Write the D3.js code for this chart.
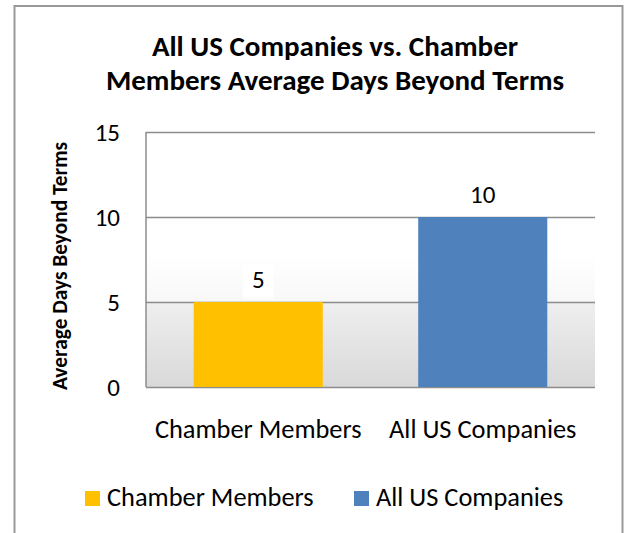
<!DOCTYPE html>
<html><head><meta charset="utf-8">
<script src="https://cdn.jsdelivr.net/npm/d3@7"></script>
<style>html,body{margin:0;padding:0;background:#fff;} svg{display:block;}</style>
</head><body>
<script>
const categories = ["Chamber Members", "All US Companies"];
const values = [5, 10];
const colors = ["#FFC000", "#4F81BD"];
const yTicks = [0, 5, 10, 15];
const titleLines = ["All US Companies vs. Chamber", "Members Average Days Beyond Terms"];
const yAxisTitle = "Average Days Beyond Terms";

const W = 625, H = 533;
const FONT = "Carlito, Lato, 'Open Sans', sans-serif";
const svg = d3.select("body").append("svg").attr("width", W).attr("height", H);

// outer chart border
svg.append("rect").attr("x", 14.5).attr("y", 6).attr("width", 608).attr("height", 540)
  .attr("fill", "#fff").attr("stroke", "#999").attr("stroke-width", 2);

const plot = {left: 146, right: 595, top: 132, bottom: 387};
const x = d3.scaleBand().domain(categories).range([plot.left, plot.right])
  .paddingInner(0.425).paddingOuter(0.2125);
const y = d3.scaleLinear().domain([0, 15]).range([plot.bottom, plot.top]);

// gradient background
const defs = svg.append("defs");
const g = defs.append("linearGradient").attr("id", "bg").attr("x1", 0).attr("y1", 0).attr("x2", 0).attr("y2", 1);
[[0, "#ffffff"], [0.48, "#ffffff"], [0.66, "#f8f8f8"], [0.675, "#eeeeee"], [1, "#d9d9d9"]]
  .forEach(([o, c]) => g.append("stop").attr("offset", o).attr("stop-color", c));
svg.append("rect").attr("x", plot.left).attr("y", plot.top)
  .attr("width", plot.right - plot.left).attr("height", plot.bottom - plot.top).attr("fill", "url(#bg)");

// gridlines via axis
const yAxis = svg.append("g").attr("transform", `translate(${plot.left},0)`)
  .call(d3.axisLeft(y).tickValues(yTicks).tickSize(-(plot.right - plot.left)).tickPadding(26).tickFormat(d3.format("d")));
yAxis.select(".domain").remove();
yAxis.selectAll(".tick line").attr("stroke", "#8c8c8c").attr("stroke-width", 1.5);
yAxis.selectAll(".tick text").attr("font-family", FONT).attr("font-size", 25).attr("fill", "#000").attr("dy", "0.32em");
svg.append("line").attr("x1", plot.left).attr("x2", plot.left).attr("y1", plot.top).attr("y2", plot.bottom)
  .attr("stroke", "#8c8c8c").attr("stroke-width", 1.5);

// bars
svg.selectAll("rect.bar").data(values).enter().append("rect").attr("class", "bar")
  .attr("x", (d, i) => x(categories[i])).attr("width", x.bandwidth())
  .attr("y", d => y(d)).attr("height", d => y(0) - y(d)).attr("fill", (d, i) => colors[i]);

// data labels
const lbl = svg.selectAll("g.lbl").data(values).enter().append("g").attr("class", "lbl")
  .attr("transform", (d, i) => `translate(${x(categories[i]) + x.bandwidth() / 2},${y(d) - 14})`);
lbl.append("rect").attr("x", -15).attr("y", -24).attr("width", 30).attr("height", 35).attr("fill", "#fff")
  .attr("display", (d) => d >= 10 ? "none" : null);
lbl.append("text").attr("text-anchor", "middle").attr("font-family", FONT).attr("font-size", 25)
  .attr("fill", "#000").text(d => d);

// category labels
svg.selectAll("text.cat").data(categories).enter().append("text").attr("class", "cat")
  .attr("x", d => x(d) + x.bandwidth() / 2).attr("y", 438).attr("text-anchor", "middle")
  .attr("font-family", FONT).attr("font-size", 26.4).attr("fill", "#000").text(d => d);

// title
svg.append("text").attr("x", 335).attr("y", 56).attr("text-anchor", "middle")
  .attr("font-family", FONT).attr("font-weight", "bold").attr("font-size", 29).attr("fill", "#000")
  .selectAll("tspan").data(titleLines).enter().append("tspan")
  .attr("x", 335).attr("dy", (d, i) => i ? 34 : 0).text(d => d);

// y axis title
svg.append("text").attr("transform", `translate(67,266) rotate(-90)`).attr("text-anchor", "middle")
  .attr("font-family", FONT).attr("font-weight", "bold").attr("font-size", 21.4).attr("fill", "#000").text(yAxisTitle);

// legend
const legX = [85, 354];
const leg = svg.selectAll("g.leg").data(categories).enter().append("g").attr("class", "leg")
  .attr("transform", (d, i) => `translate(${legX[i]},0)`);
leg.append("rect").attr("x", 0).attr("y", 491).attr("width", 15).attr("height", 15).attr("fill", (d, i) => colors[i]);
leg.append("text").attr("x", 22).attr("y", 506).attr("font-family", FONT).attr("font-size", 26.4)
  .attr("fill", "#000").text(d => d);
</script>
</body></html>
